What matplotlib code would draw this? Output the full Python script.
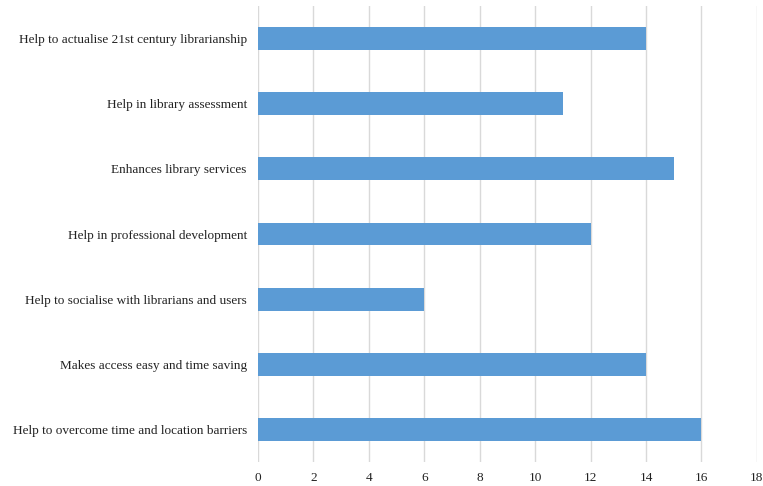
import matplotlib
matplotlib.use("Agg")
import matplotlib.pyplot as plt

categories = [
    "Help to overcome time and location barriers",
    "Makes access easy and time saving",
    "Help to socialise with librarians and users",
    "Help in professional development",
    "Enhances library services",
    "Help in library assessment",
    "Help to actualise 21st century librarianship",
]
values = [16, 14, 6, 12, 15, 11, 14]
xticks = [0, 2, 4, 6, 8, 10, 12, 14, 16, 18]

plt.rcParams['font.family'] = ['Liberation Serif', 'DejaVu Serif']

fig = plt.figure(figsize=(7.63, 4.86), dpi=100)
ax = fig.add_axes([0.338, 0.049, 0.654, 0.939])
ax.barh(range(len(categories)), values, height=0.35, color='#5B9BD5', zorder=3)
ax.set_yticks(range(len(categories)))
ax.set_yticklabels(categories, fontsize=9.5, color='#222222')
ax.set_xticks(xticks)
ax.set_xticklabels([str(t) for t in xticks], fontsize=9.5, color='#222222')
ax.set_xlim(0, 18)
ax.set_ylim(-0.5, 6.5)
for s in ax.spines.values():
    s.set_visible(False)
ax.grid(axis='x', color='#d9d9d9', linewidth=1, zorder=0)
ax.tick_params(axis='both', length=0)
ax.tick_params(axis='y', pad=8)
ax.tick_params(axis='x', pad=7)
fig.savefig("out.png", dpi=100)
